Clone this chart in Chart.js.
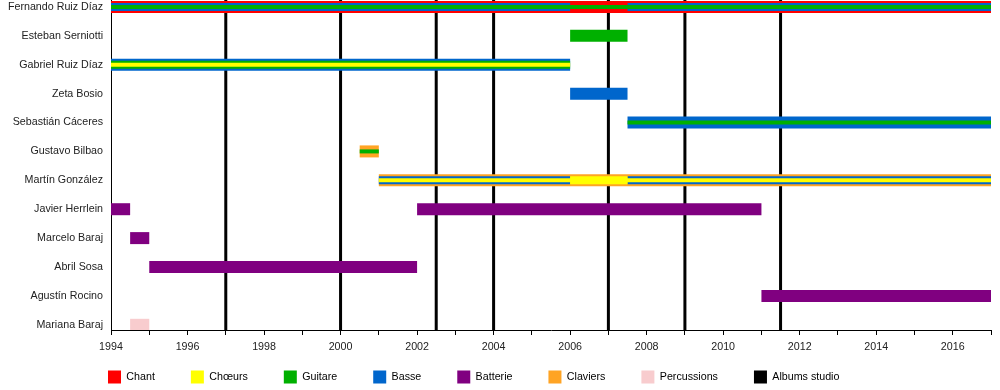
<!DOCTYPE html>
<html>
<head>
<meta charset="utf-8">
<script src="https://cdn.jsdelivr.net/npm/chart.js@4"></script>
<style>
  html, body { margin: 0; padding: 0; background: #fff; }
</style>
</head>
<body>
<canvas id="timeline" width="1000" height="390"></canvas>
<script>
"use strict";

// ---------------- DATA ----------------
const members = [
  "Fernando Ruiz Díaz",
  "Esteban Serniotti",
  "Gabriel Ruiz Díaz",
  "Zeta Bosio",
  "Sebastián Cáceres",
  "Gustavo Bilbao",
  "Martín González",
  "Javier Herrlein",
  "Marcelo Baraj",
  "Abril Sosa",
  "Agustín Rocino",
  "Mariana Baraj",
];

const instruments = ["Chant", "Chœurs", "Guitare", "Basse", "Batterie", "Claviers", "Percussions"];
const albumLabel = "Albums studio";
const albumYears = [1997, 2000, 2002.5, 2004, 2007, 2009, 2011.5];

const yearTicks = [
  1994, 1995, 1996, 1997, 1998, 1999, 2000, 2001, 2002, 2003, 2004, 2005,
  2006, 2007, 2008, 2009, 2010, 2011, 2012, 2013, 2014, 2015, 2016, 2017,
];

// [member, instrument, from, to]
const outerSpans = [
  ["Fernando Ruiz Díaz", "Chant", 1994, 2017],
  ["Esteban Serniotti", "Guitare", 2006, 2007.5],
  ["Gabriel Ruiz Díaz", "Basse", 1994, 2006],
  ["Zeta Bosio", "Basse", 2006, 2007.5],
  ["Sebastián Cáceres", "Basse", 2007.5, 2017],
  ["Gustavo Bilbao", "Claviers", 2000.5, 2001],
  ["Martín González", "Claviers", 2001, 2017],
  ["Javier Herrlein", "Batterie", 1994, 1994.5],
  ["Javier Herrlein", "Batterie", 2002, 2011],
  ["Marcelo Baraj", "Batterie", 1994.5, 1995],
  ["Abril Sosa", "Batterie", 1995, 2002],
  ["Agustín Rocino", "Batterie", 2011, 2017],
  ["Mariana Baraj", "Percussions", 1994.5, 1995],
];

const middleSpans = [
  ["Fernando Ruiz Díaz", "Basse", 1994, 2006],
  ["Fernando Ruiz Díaz", "Basse", 2007.5, 2017],
  ["Gabriel Ruiz Díaz", "Guitare", 1994, 2006],
  ["Martín González", "Basse", 2001, 2006],
  ["Martín González", "Chœurs", 2006, 2007.5],
  ["Martín González", "Basse", 2007.5, 2017],
];

const innerSpans = [
  ["Fernando Ruiz Díaz", "Guitare", 1994, 2017],
  ["Gabriel Ruiz Díaz", "Chœurs", 1994, 2006],
  ["Sebastián Cáceres", "Guitare", 2007.5, 2017],
  ["Gustavo Bilbao", "Guitare", 2000.5, 2001],
  ["Martín González", "Chœurs", 2001, 2017],
];

// ---------------- STYLE ----------------
const colors = {
  Chant: "#FF0000",
  "Chœurs": "#FFFF00",
  Guitare: "#00B000",
  Basse: "#0066CC",
  Batterie: "#800080",
  Claviers: "#FFA424",
  Percussions: "#F8CCCE",
};

const Y_MIN = -0.24;
const Y_MAX = 11.18;

Chart.defaults.font.family = "'Liberation Sans', Arial, sans-serif";
Chart.defaults.font.size = 10.7;
Chart.defaults.color = "#222";

// ---------------- DATASETS ----------------
const layers = [
  { spans: outerSpans, width: 12, order: 3 },
  { spans: middleSpans, width: 8, order: 2 },
  { spans: innerSpans, width: 4, order: 1 },
];

const datasets = [];
layers.forEach((layer) => {
  instruments.forEach((inst) => {
    const rows = layer.spans.filter((s) => s[1] === inst);
    if (!rows.length) return;
    datasets.push({
      type: "bar",
      label: inst,
      data: rows.map((s) => ({ y: members.indexOf(s[0]), x: [s[2], s[3]] })),
      backgroundColor: colors[inst],
      borderWidth: 0,
      grouped: false,
      maxBarThickness: layer.width,
      order: layer.order,
    });
  });
});

// album release markers, drawn under the bars
albumYears.forEach((yr) => {
  datasets.push({
    type: "line",
    label: albumLabel,
    data: [{ x: yr, y: Y_MIN }, { x: yr, y: Y_MAX }],
    borderColor: "#000",
    borderWidth: 3,
    pointRadius: 0,
    order: 10,
  });
});

// legend sits a bit lower / further right than chart.js would put it
const legendOffset = {
  id: "legendOffset",
  afterLayout(chart) {
    const lg = chart.legend;
    if (!lg) return;
    lg.left = 72;
    lg.top = 334.5;
  },
};

// ---------------- CHART ----------------
new Chart(document.getElementById("timeline"), {
  type: "bar",
  data: { datasets },
  plugins: [legendOffset],
  options: {
    responsive: false,
    animation: false,
    indexAxis: "y",
    layout: { padding: { left: 0, right: 9, top: 0, bottom: 0 } },
    plugins: {
      tooltip: { enabled: false },
      legend: {
        position: "bottom",
        align: "start",
        maxHeight: 30,
        onClick: () => {},
        labels: {
          boxWidth: 13,
          boxHeight: 13,
          padding: 36,
          generateLabels: () =>
            instruments
              .map((inst) => ({ text: inst, fillStyle: colors[inst], strokeStyle: colors[inst], lineWidth: 0 }))
              .concat([{ text: albumLabel, fillStyle: "#000", strokeStyle: "#000", lineWidth: 0 }]),
        },
      },
    },
    scales: {
      x: {
        type: "linear",
        min: yearTicks[0],
        max: yearTicks[yearTicks.length - 1],
        afterBuildTicks: (scale) => {
          scale.ticks = yearTicks.map((v) => ({ value: v }));
        },
        afterFit: (scale) => {
          scale.height = 30;
        },
        ticks: {
          autoSkip: false,
          maxRotation: 0,
          padding: 6,
          callback: (v) => (v % 2 === 0 && v < 2017 ? String(v) : ""),
        },
        grid: { drawOnChartArea: false, drawTicks: true, tickLength: 5, color: "#000" },
        border: { display: true, color: "#000", width: 1 },
      },
      y: {
        type: "linear",
        offset: false,
        reverse: true,
        min: Y_MIN,
        max: Y_MAX,
        afterBuildTicks: (scale) => {
          scale.ticks = members.map((_, i) => ({ value: i }));
        },
        afterFit: (scale) => {
          scale.width = 111;
          scale.paddingTop = 0;
          scale.paddingBottom = 0;
        },
        ticks: {
          padding: 8,
          autoSkip: false,
          callback: (v) => members[v] || "",
        },
        grid: { offset: false, drawOnChartArea: false, drawTicks: false },
        border: { display: true, color: "#000", width: 1 },
      },
    },
  },
});
</script>
</body>
</html>
